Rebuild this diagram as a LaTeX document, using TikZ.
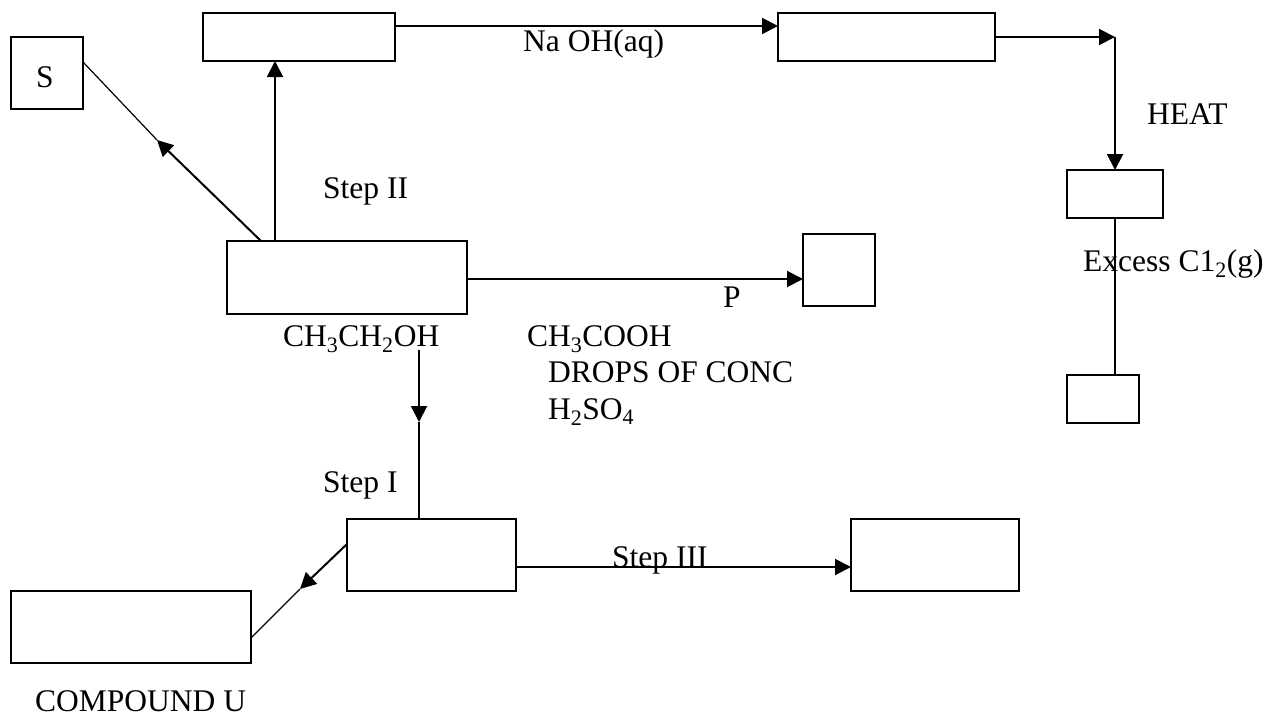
\documentclass[tikz,border=0pt]{standalone}
\usepackage{fontspec}
\setmainfont{Liberation Serif}
\usetikzlibrary{arrows.meta}
\begin{document}
\begin{tikzpicture}[x=1pt,y=-1pt,
  box/.style={draw,line width=2pt,inner sep=0,outer sep=0,anchor=north west},
  txt/.style={font=\fontsize{31.5}{37}\selectfont,inner sep=0,anchor=base west},
  link/.style={line width=2pt},
  thin/.style={line width=1.2pt},
  arr/.style={line width=2pt,-{Triangle[length=16pt,width=16pt]}}]
\useasboundingbox[fill=white] (0,0) rectangle (1267,715);
% boxes
\node[box,minimum width=72pt,minimum height=72pt] (S) at (11,37) {};
\node[box,minimum width=192pt,minimum height=48pt] (tl) at (203,13) {};
\node[box,minimum width=217pt,minimum height=48pt] (tr) at (778,13) {};
\node[box,minimum width=96pt,minimum height=48pt] (heat) at (1067,170) {};
\node[box,minimum width=72pt,minimum height=48pt] (small) at (1067,375) {};
\node[box,minimum width=72pt,minimum height=72pt] (P) at (803,234) {};
\node[box,minimum width=240pt,minimum height=73pt] (ctr) at (227,241) {};
\node[box,minimum width=169pt,minimum height=72pt] (s1) at (347,519) {};
\node[box,minimum width=168pt,minimum height=72pt] (s3) at (851,519) {};
\node[box,minimum width=240pt,minimum height=72pt] (U) at (11,591) {};
% coordinates
\coordinate (sTip) at (157,140);
\coordinate (corner) at (1115,37);
\coordinate (dStart) at (419,350);
\coordinate (dTip) at (419,422);
\coordinate (uTip) at (300,589);
% connectors
\draw[arr] ([xshift=48pt]ctr.north west) -- ([xshift=72pt]tl.south west);
\draw[arr] ([xshift=34pt]ctr.north west) -- (sTip);
\draw[thin] (sTip) -- ([yshift=-25pt]S.north east);
\draw[arr] ([yshift=-13pt]tl.north east) -- ([yshift=-13pt]tr.north west);
\draw[arr] ([yshift=-24pt]tr.north east) -- (corner);
\draw[arr] (corner) -- (heat.north);
\draw[link] (heat.south) -- (heat.south |- small.north);
\draw[arr] ([yshift=-38pt]ctr.north east) -- ([yshift=-45pt]P.north west);
\draw[arr] (dStart) -- (dTip);
\draw[link] (dTip) -- (s1.north -| dTip);
\draw[arr] ([yshift=-48pt]s1.north east) -- ([yshift=-48pt]s3.north west);
\draw[arr] ([yshift=-25pt]s1.north west) -- (uTip);
\draw[thin] (uTip) -- ([yshift=-47pt]U.north east);
% labels
\node[txt] (lS) at (36,87) {S};
\node[txt] (lNa) at (523,51) {Na OH(aq)};
\node[txt] (lHeat) at (1147,124) {HEAT};
\node[txt] (lStep2) at (323,198) {Step II};
\node[txt] (lCl) at (1083,271) {Excess C1\textsubscript{2}(g)};
\node[txt] (lP) at (723,307) {P};
\node[txt] (lEth) at (283,346) {CH\textsubscript{3}CH\textsubscript{2}OH};
\node[txt] (lAc) at (527,346) {CH\textsubscript{3}COOH};
\node[txt] (lDrops) at (548,382) {DROPS OF CONC};
\node[txt] (lH2) at (548,419) {H\textsubscript{2}SO\textsubscript{4}};
\node[txt] (lStep1) at (323,492) {Step I};
\node[txt] (lStep3) at (612,567) {Step III};
\node[txt] (lU) at (35,711) {COMPOUND U};
\end{tikzpicture}
\end{document}
